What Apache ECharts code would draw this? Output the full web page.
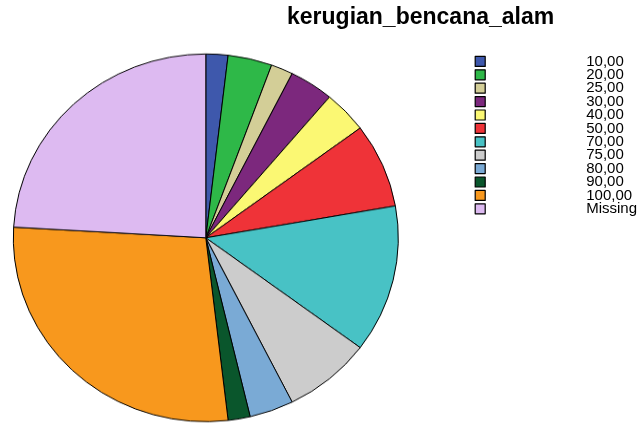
<!DOCTYPE html>
<html>
<head>
<meta charset="utf-8">
<script src="https://cdn.jsdelivr.net/npm/echarts@6/dist/echarts.min.js"></script>
<style>
  html, body { margin: 0; padding: 0; background: #fff; }
  #wrap { position: relative; width: 643px; height: 423px; overflow: hidden; }
  #pie, #labels { position: absolute; left: 0; top: 0; width: 643px; }
  #labels { height: 423px; }
  /* the original pie is a little flatter than it is wide; taller box so the bottom is not cut before scaling */
  #pie { height: 470px; transform: scaleY(0.955); transform-origin: 205.8px 237.8px; }
</style>
</head>
<body>
<div id="wrap">
  <div id="pie"></div>
  <div id="labels"></div>
</div>
<script>
const title = 'kerugian_bencana_alam'
const categories = ['10,00', '20,00', '25,00', '30,00', '40,00', '50,00', '70,00', '75,00', '80,00', '90,00', '100,00', 'Missing']
const counts = [1, 2, 1, 2, 2, 4, 7, 4, 2, 1, 15, 13]
const palette = ['#3e58ac', '#2eb848', '#d3ce97', '#7c287d', '#fbf873', '#ef3338', '#48c2c5', '#cccccc', '#7aaad5', '#0a562c', '#f8981d', '#ddbaf1']

function seriesData() {
  return categories.map((name, i) => ({ name: name, value: counts[i] }))
}

const pieChart = echarts.init(document.getElementById('pie'), null, { renderer: 'canvas' })
pieChart.setOption({
  animation: false,
  color: palette,
  series: [
    {
      type: 'pie',
      center: [205.8, 237.8],
      radius: 192.5,
      startAngle: 90,
      clockwise: true,
      silent: true,
      label: { show: false },
      labelLine: { show: false },
      itemStyle: { borderColor: '#000', borderWidth: 1 },
      emphasis: { disabled: true },
      data: seriesData(),
    },
  ],
})

// title and legend sit on an unscaled layer so the text is not squashed
const labelChart = echarts.init(document.getElementById('labels'), null, { renderer: 'canvas' })
labelChart.setOption({
  animation: false,
  color: palette,
  title: {
    text: title,
    left: 287,
    top: 6,
    padding: 0,
    textStyle: {
      fontFamily: 'Liberation Sans',
      fontWeight: 'bold',
      fontSize: 23,
      color: '#000',
    },
  },
  legend: {
    orient: 'vertical',
    left: 474.6,
    top: 53.9,
    padding: 0,
    itemGap: -1.6,
    itemWidth: 10,
    itemHeight: 10,
    icon: 'rect',
    selectedMode: false,
    itemStyle: { borderColor: '#000', borderWidth: 1.2 },
    textStyle: {
      fontFamily: 'Liberation Sans',
      fontSize: 15,
      color: '#000',
      lineHeight: 5.4,
      padding: [8, 0, 0, 96],
    },
    data: categories,
  },
  series: [
    {
      type: 'pie',
      center: [205.8, 237.8],
      radius: 0,
      silent: true,
      label: { show: false },
      labelLine: { show: false },
      itemStyle: { borderWidth: 0 },
      data: seriesData(),
    },
  ],
})
</script>
</body>
</html>
